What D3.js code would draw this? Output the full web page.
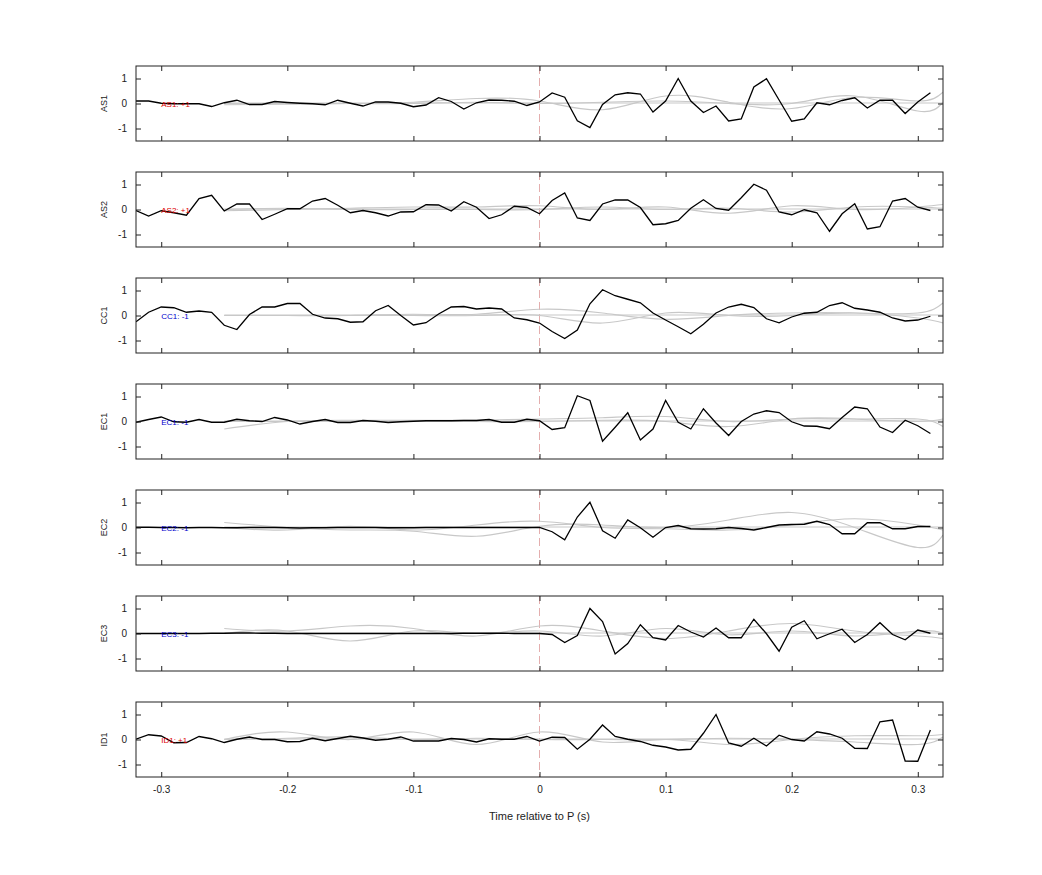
<!DOCTYPE html><html><head><meta charset="utf-8"><script src="https://d3js.org/d3.v7.min.js"></script>
<style>body{margin:0;background:#fff}text{font-family:"Liberation Sans",Arial,sans-serif}</style></head><body><svg id="c" width="1042" height="875"></svg><script>
const channels=["AS1","AS2","CC1","EC1","EC2","EC3","ID1"];
const labels=["AS1: +1","AS2: +1","CC1: -1","EC1: -1","EC2: -1","EC3: -1","ID1: +1"];
const signs=[1,1,-1,-1,-1,-1,1];
const xTicks=[-0.3,-0.2,-0.1,0,0.1,0.2,0.3];
const yTicks=[-1,0,1];
const times=d3.range(64).map(k=>+(-0.32+k*0.01).toFixed(2));
const s1=[0.10,0.10,0.01,-0.01,-0.01,-0.01,-0.12,0.03,0.13,-0.04,-0.04,0.08,0.04,0.01,-0.01,-0.05,0.13,0.01,-0.10,0.06,0.06,0.01,-0.13,-0.06,0.23,0.08,-0.22,0.03,0.14,0.13,0.09,-0.08,0.06,0.42,0.25,-0.69,-0.96,-0.04,0.35,0.43,0.38,-0.34,0.10,1.0,0.10,-0.36,-0.10,-0.70,-0.62,0.66,0.99,0.14,-0.71,-0.62,0.03,-0.05,0.12,0.23,-0.18,0.13,0.13,-0.40,0.06,0.43];
const s2=[-0.04,-0.26,-0.05,-0.13,-0.23,0.44,0.57,-0.06,0.22,0.22,-0.40,-0.19,0.03,0.03,0.34,0.44,0.17,-0.13,-0.04,-0.13,-0.26,-0.10,-0.09,0.19,0.18,-0.06,0.31,0.09,-0.36,-0.21,0.13,0.08,-0.17,0.36,0.66,-0.34,-0.44,0.22,0.38,0.38,0.08,-0.61,-0.57,-0.44,0.05,0.39,0.04,-0.03,0.47,1.01,0.77,-0.10,-0.21,-0.01,-0.13,-0.87,-0.17,0.23,-0.78,-0.69,0.34,0.44,0.09,-0.04];
const s3=[-0.25,0.13,0.34,0.31,0.13,0.18,0.13,-0.39,-0.56,0.04,0.34,0.34,0.48,0.48,0.05,-0.10,-0.13,-0.27,-0.25,0.19,0.40,0,-0.38,-0.29,0.06,0.34,0.36,0.26,0.30,0.26,-0.10,-0.17,-0.30,-0.64,-0.92,-0.58,0.47,1.03,0.79,0.65,0.51,0.10,-0.18,-0.45,-0.73,-0.35,0.10,0.34,0.45,0.32,-0.13,-0.29,-0.06,0.09,0.13,0.40,0.51,0.29,0.22,0.13,-0.10,-0.22,-0.18,-0.03];
const s4=[-0.03,0.08,0.18,-0.01,-0.03,0.08,-0.03,-0.03,0.09,0.03,0,0.16,0.06,-0.10,0,0.08,-0.04,-0.04,0.04,0.01,-0.04,-0.01,0.01,0.03,0.03,0.03,0.04,0.04,0.08,-0.03,-0.03,0.09,0.03,-0.32,-0.25,1.03,0.84,-0.79,-0.23,0.35,-0.74,-0.30,0.84,-0.03,-0.30,0.51,-0.06,-0.56,0,0.30,0.43,0.36,-0.01,-0.18,-0.19,-0.29,0.16,0.58,0.51,-0.22,-0.44,0.05,-0.17,-0.48];
const s5=[0.01,0.01,0,0,-0.01,0,0,-0.01,-0.01,0,0,0,-0.01,-0.02,-0.01,-0.01,0,0,0,0,-0.01,-0.01,-0.01,0,0,0,0,0,0,0,0,0,0,-0.17,-0.49,0.42,1.01,-0.13,-0.43,0.30,-0.01,-0.39,0,0.08,-0.05,-0.06,-0.05,0,-0.04,-0.10,0,0.10,0.12,0.13,0.25,0.12,-0.25,-0.25,0.19,0.19,-0.05,-0.05,0.04,0.04];
const s6=[0,0,0,0,0,0,0.01,0.01,0.02,0.02,0.01,0.01,0,0,0,0,0,0,0,0,0,0,0,0,0,0,0.01,0.01,0.01,0.01,0,0,0,-0.04,-0.36,-0.08,1.0,0.48,-0.82,-0.40,0.35,-0.17,-0.26,0.32,0.06,-0.14,0.22,-0.17,-0.17,0.57,-0.01,-0.71,0.25,0.51,-0.21,-0.01,0.17,-0.36,-0.04,0.43,-0.04,-0.25,0.14,0.01];
const s7=[0.01,0.19,0.14,-0.13,-0.12,0.12,0.03,-0.12,0.01,0.10,0,0,-0.09,-0.08,0.05,-0.05,0.04,0.13,0.06,-0.03,0.01,0.10,-0.06,-0.06,-0.06,0.04,0,-0.10,0.03,0.01,0.01,0.12,-0.06,0.09,0.08,-0.39,0.01,0.58,0.12,0.01,-0.08,-0.23,-0.30,-0.42,-0.39,0.25,1.0,-0.14,-0.27,0.05,-0.26,0.17,0,-0.06,0.31,0.22,0.05,-0.35,-0.36,0.71,0.78,-0.86,-0.87,0.38];
const series=[s1,s2,s3,s4,s5,s6,s7];
const grayTimes=[-0.25,-0.2,-0.15,-0.1,-0.05,0,0.05,0.1,0.15,0.2,0.25,0.3,0.32];
const flat=[0.02,0.02,0.02,0.02,0.02,0.02,0.02,0.02,0.02,0.02,0.02,0.02,0.02];
const grays=[
 [[0,0,0,0.05,0.2,0.1,-0.25,0.3,0.05,-0.2,0.25,0.1,0.45],[-0.05,-0.03,0,0,0.05,0,0.05,0.1,0,0,0.3,-0.3,0.05],flat],
 [[-0.05,0,0.05,0.1,0.1,0.15,0,0.1,-0.15,0.15,0,0.1,0.2],[0,0.05,0,0,0,0,0.1,0,0.05,-0.1,0.1,0.1,0.05],flat],
 [flat,[0,0,0,0.05,0.05,0.25,0.1,-0.15,0,0.1,0.1,0.1,0.5],[0,0,0,0,0,0,-0.3,0.1,0,0,0.1,-0.1,-0.3]],
 [[-0.3,0,0.05,0.05,0.05,0.1,0.15,0.2,0,0.1,0.1,0.1,-0.2],[0,0,0,0,0,0,0.05,0,-0.2,0.1,0.1,0,0.1],flat],
 [[0.2,0,-0.1,-0.15,-0.35,0.05,0.1,0,0.3,0.6,0,-0.8,-0.3],[0,-0.1,0.05,-0.1,0.1,0.25,0,-0.05,-0.1,0.1,0.35,0.1,-0.1],flat],
 [[0.2,0.1,0.3,0.2,-0.1,0.3,0.1,-0.2,0.1,0.4,0.1,-0.1,-0.2],[0,0.1,-0.3,0.1,0,0.1,-0.1,0.2,-0.05,0.1,-0.1,0.1,0],flat],
 [[0,0.3,0,0.3,-0.2,0.3,-0.1,0,-0.2,0,0.15,0.15,0.2],[0,0.05,0.1,0,0.05,0,0,0,0.05,0,-0.1,-0.2,0.1],flat]];

const svg=d3.select("#c");
const L=136,R=943,top0=66,H=75,step=106;
const fmt=d=>String(+d.toFixed(2));
const x=d3.scaleLinear().domain([-0.32,0.32]).range([L,R]);
channels.forEach((ch,i)=>{
  const t=top0+i*step;
  const y=d3.scaleLinear().domain([-1.5,1.5]).range([t+H,t]);
  const g=svg.append("g");
  const clip="cl"+i;
  g.append("clipPath").attr("id",clip).append("rect").attr("x",L).attr("y",t).attr("width",R-L).attr("height",H);
  const pg=g.append("g").attr("clip-path",`url(#${clip})`);
  pg.append("line").attr("x1",x(0)).attr("x2",x(0)).attr("y1",t).attr("y2",t+H).attr("stroke","#d99").attr("stroke-dasharray","8,4").attr("stroke-width",0.8);
  const gl=d3.line().x((d,j)=>x(grayTimes[j])).y(d=>y(d)).curve(d3.curveNatural);
  grays[i].forEach(gs=>pg.append("path").attr("d",gl(gs)).attr("fill","none").attr("stroke","#c8c8c8").attr("stroke-width",1.2));
  const bl=d3.line().x((d,j)=>x(times[j])).y(d=>y(d));
  pg.append("path").attr("d",bl(series[i])).attr("fill","none").attr("stroke","#000").attr("stroke-width",1.3);
  g.append("text").attr("x",x(-0.3)).attr("y",y(0)+3).attr("font-size",8).attr("fill",signs[i]>0?"#d00":"#00c").text(labels[i]);
  const ax=d3.axisBottom(x).tickValues(xTicks).tickSizeInner(-5).tickSizeOuter(0).tickPadding(9).tickFormat(i==6?fmt:"");
  const axT=d3.axisTop(x).tickValues(xTicks).tickSizeInner(-5).tickSizeOuter(0).tickFormat("");
  const ay=d3.axisLeft(y).tickValues(yTicks).tickSizeInner(-5).tickSizeOuter(0).tickPadding(9).tickFormat(fmt);
  const ayR=d3.axisRight(y).tickValues(yTicks).tickSizeInner(-5).tickSizeOuter(0).tickFormat("");
  [[ax,`translate(0,${t+H})`],[axT,`translate(0,${t})`],[ay,`translate(${L},0)`],[ayR,`translate(${R},0)`]].forEach(([a,tr])=>{
    const gg=g.append("g").attr("transform",tr).call(a);
    gg.select(".domain").remove();
    gg.selectAll("line").attr("stroke","#222");
    gg.selectAll("text").attr("font-size",10).attr("fill","#222").attr("font-family","Liberation Sans, Arial");
  });
  g.append("rect").attr("x",L).attr("y",t).attr("width",R-L).attr("height",H).attr("fill","none").attr("stroke","#222").attr("stroke-width",1);
  g.append("text").attr("transform",`translate(${107},${y(0)}) rotate(-90)`).attr("text-anchor","middle").attr("font-size",9).attr("fill","#222").text(ch);
});
svg.append("text").attr("x",x(0)).attr("y",820).attr("text-anchor","middle").attr("font-size",11).attr("fill","#222").text("Time relative to P (s)");
</script></body></html>
